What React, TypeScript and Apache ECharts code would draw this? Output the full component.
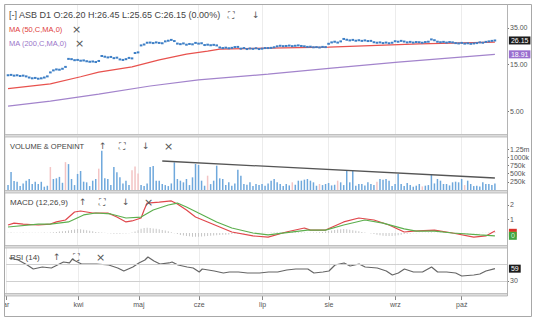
import React, { useEffect, useRef } from 'react';
import * as echarts from 'echarts';

// ---- categories (trading days, Polish month names) ----
const months = ['mar', 'kwi', 'maj', 'cze', 'lip', 'sie', 'wrz', 'paź'];
const tradingDays = [23, 20, 20, 21, 22, 22, 22, 12];
const firstMonthVisible = 'ar'; // first month label is cut off at the left edge in the reference

// ---- daily closes (ASB) ----
const close = [
  11.6, 11.7, 11.5, 11.6, 11.4, 11.5, 11.3, 11.0, 10.8, 10.9,
  10.7, 10.8, 11.0, 11.3, 12.4, 13.0, 13.3, 13.2, 13.5, 14.1,
  17.0, 16.9, 16.5, 16.6, 16.3, 16.4, 16.1, 15.9, 16.0, 15.8,
  16.2, 18.2, 17.9, 17.6, 17.8, 17.3, 17.5, 16.8, 16.6, 16.9,
  17.4, 17.2, 19.5, 19.8, 23.3, 23.8, 24.8, 24.9, 24.6, 25.0,
  24.7, 24.5, 25.6, 26.0, 26.5, 25.8, 24.3, 24.0, 24.4, 23.7,
  24.1, 23.9, 24.7, 24.3, 24.5, 23.5, 23.7, 23.4, 23.6, 23.3,
  22.2, 21.9, 22.1, 21.8, 22.0, 22.4, 22.5, 21.6, 21.9, 21.4,
  21.7, 21.5, 21.8, 21.4, 21.6, 21.9, 21.9, 22.0, 22.3, 22.8,
  23.1, 22.9, 23.0, 23.2, 22.9, 23.1, 23.3, 23.0, 22.8, 22.5,
  22.6, 22.3, 22.4, 22.2, 22.5, 22.4, 24.2, 25.0, 25.4, 24.9,
  25.6, 27.1, 26.6, 26.2, 26.5, 26.0, 26.3, 25.9, 26.2, 25.8,
  25.9, 25.1, 24.8, 25.0, 24.6, 24.9, 24.5, 24.8, 25.7, 25.4,
  25.9, 25.5, 25.0, 25.3, 24.9, 25.2, 25.1, 24.8, 25.2, 25.4,
  26.8, 26.3, 25.4, 25.1, 25.3, 24.9, 25.2, 25.0, 24.6, 24.4,
  24.7, 24.3, 24.5, 24.2, 24.4, 24.6, 25.0, 24.8, 25.3, 25.6,
  25.9, 26.15,
];

// ---- daily volume (thousands) ----
const volumeK = [
  150, 550, 275, 254, 120, 200, 284, 335, 183, 250,
  183, 250, 100, 130, 700, 335, 356, 400, 220, 850,
  790, 335, 150, 490, 580, 254, 234, 120, 284, 335,
  650, 1200, 356, 335, 150, 700, 538, 386, 200, 284,
  152, 600, 720, 500, 150, 120, 200, 700, 730, 284,
  284, 183, 150, 120, 200, 843, 335, 284, 234, 335,
  150, 386, 792, 762, 284, 130, 437, 180, 284, 742,
  356, 335, 150, 234, 130, 200, 620, 437, 180, 160,
  234, 120, 183, 150, 183, 130, 200, 284, 335, 234,
  183, 120, 183, 140, 234, 160, 284, 284, 315, 335,
  284, 234, 130, 183, 150, 183, 213, 140, 160, 284,
  234, 150, 589, 234, 589, 130, 183, 183, 140, 234,
  183, 150, 254, 335, 315, 335, 284, 120, 183, 488,
  183, 120, 213, 152, 100, 132, 183, 110, 132, 150,
  488, 200, 335, 284, 183, 183, 140, 234, 254, 234,
  335, 150, 284, 183, 120, 132, 110, 234, 183, 183,
  150, 200,
];
const downVolumeDays = [14, 19, 30, 41, 42, 43, 66, 94, 103, 109, 122, 137, 151];
const volumeTrend = [[51, 884000], [161, 366000]];

// ---- moving averages [day, value] ----
const ma50 = [[0, 8.5], [14, 9.5], [24, 11.2], [30, 12.5], [41, 14.1], [50, 16.6], [59, 19.0], [66, 20.4], [70, 21.4], [86, 21.9], [106, 22.4], [136, 24.1], [161, 25.2]];
const ma200 = [[0, 5.65], [14, 6.35], [30, 7.48], [47, 9.02], [63, 10.4], [86, 11.9], [107, 13.7], [129, 15.8], [161, 18.91]];

// ---- MACD (12,26,9) [day, value] ----
const macdLine = [[0, .57], [2, .71], [5, .64], [10, .57], [14, .64], [16, .79], [19, .93], [22, 1.5], [24, 1.57], [28, 1.43], [33, 1.43], [36, 1.14], [39, .79], [41, .86], [44, 1.07], [45, 1.64], [46, 2.14], [50, 2.21], [54, 2.29], [56, 2.07], [59, 1.64], [62, 1.14], [66, .79], [70, .43], [74, .07], [81, -.21], [86, -.29], [92, .07], [98, .36], [100, .21], [105, .21], [111, .79], [116, 1.07], [121, .93], [126, .57], [131, .07], [134, .14], [141, .21], [147, 0], [154, -.29], [158, -.21], [161, .14]];
const signalLine = [[0, .43], [10, .64], [14, .64], [20, .79], [25, 1.29], [29, 1.43], [34, 1.36], [39, 1.07], [44, 1.14], [48, 1.64], [53, 2.0], [56, 2.14], [59, 1.86], [63, 1.43], [69, .79], [74, .36], [81, 0], [86, -.14], [99, .21], [105, .21], [111, .57], [118, .93], [124, .71], [131, .29], [135, .14], [141, .14], [147, 0], [156, -.14], [161, -.2]];
const macdHist = [
  .02, .03, .02, .01, .02, .03, .02, .01, .02, .01,
  .01, .02, .03, .02, .04, .06, .08, .1, .12, .15,
  .18, .22, .25, .28, .26, .24, .2, .16, .12, .08,
  .05, .03, .02, -.01, -.03, -.05, -.06, -.05, -.04, -.03,
  -.02, .03, .1, .2, .3, .35, .38, .36, .33, .3,
  .26, .22, .18, .12, .06, -.02, -.08, -.14, -.18, -.22,
  -.24, -.26, -.27, -.26, -.25, -.24, -.22, -.2, -.18, -.16,
  -.15, -.13, -.12, -.1, -.08, -.06, -.05, -.04, -.03, -.02,
  -.02, -.01, -.01, .01, .01, .02, .02, .03, .04, .05,
  .06, .07, .08, .08, .07, .06, .05, .04, .03, .02,
  .02, .03, .04, .05, .07, .1, .14, .18, .22, .25,
  .27, .28, .26, .24, .2, .16, .12, .08, .04, 0,
  -.04, -.08, -.12, -.16, -.19, -.21, -.22, -.21, -.19, -.16,
  -.12, -.08, -.05, -.03, -.02, -.01, .01, .02, .02, .03,
  .03, .02, .02, .01, .01, .01, 0, -.01, -.01, -.02,
  -.02, -.03, -.03, -.02, -.02, -.01, -.01, .01, .02, .03,
  .04, .05,
];

// ---- RSI (14) [day, value] ----
const rsi14 = [[0, 84], [3, 79.4], [6, 67.6], [8, 58.2], [11, 62.9], [14, 60.6], [16, 67.6], [18, 74.7], [20, 72.4], [21, 81.8], [22, 77], [24, 70], [29, 70], [33, 67.6], [36, 60.6], [38, 53.5], [41, 62.9], [43, 72.4], [45, 79.4], [46, 86.5], [48, 77], [50, 70], [53, 72.4], [54, 74.7], [56, 67.6], [59, 62.9], [61, 60.6], [63, 51.2], [64, 58.2], [68, 53.5], [71, 48.8], [73, 51.2], [76, 51.2], [79, 48.8], [83, 48.8], [86, 51.2], [89, 51.2], [92, 55.9], [95, 58.2], [99, 58.2], [101, 48.8], [104, 51.2], [106, 53.5], [108, 67.6], [111, 72.4], [113, 65.3], [116, 70], [118, 62.9], [122, 60.6], [125, 53.5], [127, 44.1], [129, 48.8], [131, 58.2], [134, 51.2], [137, 51.2], [140, 62.9], [142, 51.2], [145, 51.2], [148, 48.8], [150, 41.8], [154, 44.1], [156, 46.5], [158, 53.5], [161, 59]];
const rsiLevels = [30, 70];

// ---- axis ticks ----
const priceTicks = [5, 15, 35];
const volumeTicks = [250000, 500000, 750000, 1000000, 1250000];
const macdTicks = [1, 2];
const rsiTicks = [30];

const FONT = '"Liberation Sans", Arial, sans-serif';

export default function App() {
  const ref = useRef<HTMLDivElement>(null);
  useEffect(() => {
    if (!ref.current) return;
    const chart = echarts.init(ref.current, undefined, { renderer: 'svg' });

    const LEAD = 1;
    const TRAIL = 4;
    const categories: string[] = ['lead'];
    const monthStart = new Set<number>([0]);
    months.forEach((m, mi) => {
      for (let d = 0; d < tradingDays[mi]; d++) {
        if (d === 0 && mi > 0) monthStart.add(categories.length);
        categories.push(m + '|' + d);
      }
    });
    for (let t = 0; t < TRAIL; t++) categories.push('trail' + t);
    const isMonth = (i: number) => monthStart.has(i);
    const shift = (arr: number[][]) => arr.map(([d, v]) => [d + LEAD, v]);

    const grids = [
      { top: 5, height: 129 },
      { top: 137, height: 53 },
      { top: 193, height: 52 },
      { top: 248, height: 45 },
    ];

    const xAxes = grids.map((_, gi) => ({
      type: 'category',
      gridIndex: gi,
      data: categories,
      boundaryGap: false,
      offset: gi === 3 ? 3 : 0,
      axisLine: { show: false },
      axisTick: gi === 3 ? { show: true, length: 4, interval: isMonth, lineStyle: { color: '#888' } } : { show: false },
      axisLabel: gi === 3 ? {
        show: true, interval: isMonth, fontSize: 7, color: '#555', margin: 5, fontFamily: FONT,
        formatter: (v: string) => (v === 'lead' ? firstMonthVisible : v.split('|')[0]),
      } : { show: false },
      splitLine: { show: true, interval: isMonth, lineStyle: { color: '#ececec', width: 1 } },
    }));

    const yCommon = (gi: number) => ({
      gridIndex: gi,
      position: 'right',
      axisLine: { show: false },
      splitLine: { show: false },
    });
    const tick = (vals: number[]) => ({ show: true, length: 2, customValues: vals, lineStyle: { color: '#777' } });
    const lab = (vals: number[], fmt: (v: number) => string) => ({
      customValues: vals, formatter: fmt, fontSize: 7, color: '#555', margin: 3, fontFamily: FONT,
    });

    const yAxes = [
      { ...yCommon(0), type: 'log', logBase: 10, min: 2.94, max: 59.9, axisTick: tick(priceTicks), axisLabel: lab(priceTicks, (v) => Number(v).toFixed(2)) },
      { ...yCommon(1), type: 'value', min: 0, max: 1616000, axisTick: tick(volumeTicks), axisLabel: lab(volumeTicks, (v) => (v >= 1250000 ? v / 1e6 + 'm' : v / 1000 + 'k')) },
      { ...yCommon(2), type: 'value', min: -0.857, max: 2.857, axisTick: tick(macdTicks), axisLabel: lab(macdTicks, (v) => String(v)) },
      { ...yCommon(3), type: 'value', min: 1.76, max: 107.6, axisTick: tick(rsiTicks), axisLabel: lab(rsiTicks, (v) => String(v)) },
    ];

    const endBox = (text: string, bg: string, fg = '#fff', extra: any = {}) => ({
      show: true, formatter: text, color: fg, backgroundColor: bg, padding: [1, 2, 0, 2],
      fontSize: 7, fontFamily: FONT, offset: [9, 0], distance: 5, ...extra,
    });

    const downSet = new Set(downVolumeDays);
    const volData = volumeK.map((v, i) => ({
      value: [i + LEAD, v * 1000],
      itemStyle: { color: downSet.has(i) ? '#f3c4c4' : '#6fa8dc' },
    }));

    const series: any[] = [
      { type: 'line', xAxisIndex: 0, yAxisIndex: 0, data: shift(ma200), symbol: 'none', lineStyle: { color: '#a384cc', width: 1.2 }, endLabel: endBox('18.91', '#9a6fcf'), z: 2 },
      { type: 'line', xAxisIndex: 0, yAxisIndex: 0, data: shift(ma50), symbol: 'none', lineStyle: { color: '#e8524e', width: 1.2 }, z: 2 },
      {
        type: 'line', xAxisIndex: 0, yAxisIndex: 0, data: close.map((v, i) => [i + LEAD, v]),
        symbol: 'rect', symbolSize: [2.6, 2], showAllSymbol: true, lineStyle: { width: 0, opacity: 0 },
        itemStyle: { color: '#3d7fc6' }, endLabel: endBox('26.15', '#1c1c1c'), z: 4,
      },
      {
        type: 'bar', xAxisIndex: 1, yAxisIndex: 1, data: volData, barWidth: 1.5,
        markLine: {
          silent: true, symbol: ['none', 'none'], label: { show: false },
          lineStyle: { color: '#555', width: 1.3, type: 'solid' },
          data: [[{ coord: [volumeTrend[0][0] + LEAD, volumeTrend[0][1]] }, { coord: [volumeTrend[1][0] + LEAD, volumeTrend[1][1]] }]],
        },
      },
      { type: 'bar', xAxisIndex: 2, yAxisIndex: 2, data: macdHist.map((v, i) => [i + LEAD, v]), barWidth: 1, itemStyle: { color: '#c6c6c6' } },
      { type: 'line', xAxisIndex: 2, yAxisIndex: 2, data: shift(macdLine), symbol: 'none', lineStyle: { color: '#e0474c', width: 1.2 } },
      {
        type: 'line', xAxisIndex: 2, yAxisIndex: 2, data: shift(signalLine), symbol: 'none', lineStyle: { color: '#5caf4e', width: 1.2 },
        endLabel: endBox('0', '#3fa53f', '#d8f0d8', { shadowColor: '#d9302c', shadowOffsetY: -3, shadowBlur: 0 }),
      },
      {
        type: 'line', xAxisIndex: 3, yAxisIndex: 3, data: shift(rsi14), symbol: 'none', lineStyle: { color: '#666', width: 1.2 },
        endLabel: endBox('59', '#1c1c1c'),
        markLine: {
          silent: true, symbol: ['none', 'none'], label: { show: false },
          lineStyle: { color: '#cfcfcf', width: 1, type: 'solid' },
          data: rsiLevels.map((v) => ({ yAxis: v })),
        },
      },
    ];

    const txt = (text: string, x: number, y: number, size: number, color: string, family = FONT) => ({
      type: 'text', x, y, z: 100,
      style: { text, fill: color, font: `${size}px ${family}`, verticalAlign: 'middle', align: 'left' },
    });
    const sym = '"DejaVu Sans", sans-serif';
    const sep = (y: number) => ({
      type: 'rect', z: 90, shape: { x: 4.5, y: y + 0.5, width: 503, height: 2.5 },
      style: { fill: '#dcdcdc', stroke: '#b4b4b4', lineWidth: 0.8 },
    });

    const graphic: any[] = [
      { type: 'rect', z: 95, shape: { x: 0, y: 0, width: 4, height: 320 }, style: { fill: '#fff' } },
      { type: 'rect', z: 96, shape: { x: 4.5, y: 4.5, width: 527, height: 312 }, style: { fill: 'none', stroke: '#a8a8a8', lineWidth: 1 } },
      { type: 'line', z: 96, shape: { x1: 507.5, y1: 4.5, x2: 507.5, y2: 296 }, style: { stroke: '#b4b4b4', lineWidth: 1 } },
      sep(134), sep(190), sep(245), sep(293),
      txt('[-] ASB D1 O:26.20 H:26.45 L:25.65 C:26.15 (0.00%)', 9, 15, 9, '#444'),
      txt('⛶', 228, 15, 9, '#555', sym),
      txt('↓', 252, 15, 9, '#555', sym),
      txt('MA (50,C,MA,0)', 9, 29, 7.5, '#e0413d'),
      txt('×', 72, 29, 11, '#555', sym),
      txt('MA (200,C,MA,0)', 9, 43, 7.5, '#9a75c9'),
      txt('×', 75, 43, 11, '#555', sym),
      txt('VOLUME & OPENINT', 10, 146, 7.5, '#444'),
      txt('↑', 99, 146, 9, '#555', sym),
      txt('⛶', 119, 146, 9, '#555', sym),
      txt('↓', 142, 146, 9, '#555', sym),
      txt('×', 164, 146, 11, '#555', sym),
      txt('MACD (12,26,9)', 10, 202, 8, '#444'),
      txt('↑', 79, 202, 9, '#555', sym),
      txt('⛶', 99, 202, 9, '#555', sym),
      txt('↓', 122, 202, 9, '#555', sym),
      txt('×', 144, 202, 11, '#555', sym),
      txt('RSI (14)', 10, 257, 8, '#444'),
      txt('↑', 53, 257, 9, '#555', sym),
      txt('⛶', 73, 257, 9, '#555', sym),
      txt('×', 96, 257, 11, '#555', sym),
    ];

    chart.setOption({
      animation: false,
      backgroundColor: '#fff',
      textStyle: { fontFamily: FONT },
      grid: grids.map((g) => ({ left: 5, right: 29, top: g.top, height: g.height, show: false })),
      xAxis: xAxes,
      yAxis: yAxes,
      series,
      graphic,
    });
    return () => chart.dispose();
  }, []);
  return <div ref={ref} style={{ position: 'absolute', left: 0, top: 0, width: 536, height: 320 }} />;
}
